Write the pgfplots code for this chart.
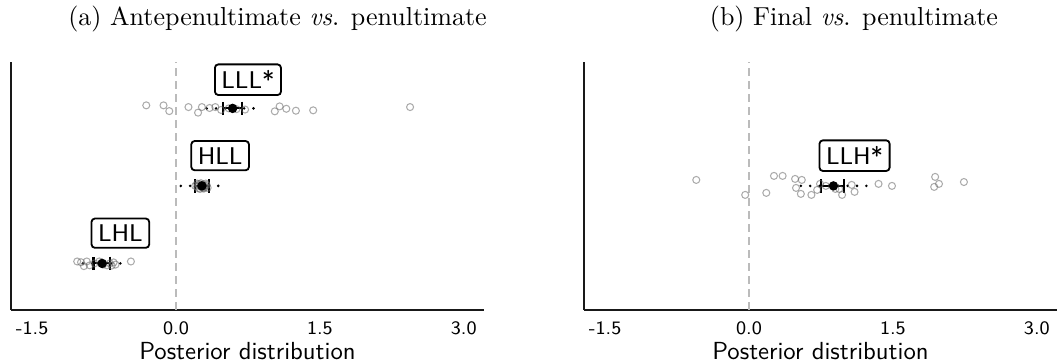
\documentclass[border=0pt]{standalone}
\usepackage{fontspec}
\usepackage{pgfplots}
\pgfplotsset{compat=1.18}
\definecolor{zeroline}{HTML}{BBBBBB}

\pgfplotsset{
 myaxis/.style={
  scale only axis, width=181.9pt, height=95.4pt,
  xmin=-1.72, xmax=3.21, ymin=0.4, ymax=3.6,
  axis x line*=bottom, axis y line*=left,
  axis line style={line width=0.85pt, black!90},
  xtick={-1.5,0,1.5,3}, xticklabels={-1.5,0.0,1.5,3.0},
  ytick=\empty,
  major tick length=0pt,
  tick label style={font=\sffamily\fontsize{7.3}{8}\selectfont},
  xticklabel style={yshift=-1.0pt},
  xlabel={Posterior distribution},
  xlabel style={font=\sffamily\fontsize{9.5}{11}\selectfont, at={(axis description cs:0.5,0)}, anchor=center, yshift=-15.8pt},
  clip=false,
 },
 indiv/.style={only marks, mark=o, mark size=1.35pt, mark options={draw=black!60, line width=0.4pt, draw opacity=0.55}},
 ci/.style={only marks, mark=*, mark size=1.6pt, black,
   error bars/.cd, x dir=both, x explicit, error mark=|,
   error bar style={line width=0.8pt, black},
   error mark options={line width=0.8pt, mark size=2.6pt, black}},
 wide/.style={black, line width=1.1pt, line cap=round, dash pattern=on 0pt off 3.6pt},
 zero/.style={zeroline, line width=0.8pt, dash pattern=on 3.2pt off 1.8pt},
}
\tikzset{lab/.style={draw, rounded corners=1.3pt, line width=0.7pt, fill=white,
  font=\sffamily\fontsize{9.3}{10}\selectfont, inner xsep=2.5pt, inner ysep=2.4pt, text depth=0pt}}

\begin{document}
\begin{tikzpicture}
\path[use as bounding box] (-4.23pt,-20pt) rectangle (402.7pt,119.2pt);

\begin{axis}[myaxis, at={(0pt,0pt)}, anchor=south west]
\addplot[zero] coordinates {(0,0.4) (0,3.6)};
% LLL
\addplot[indiv] coordinates {
(-0.31,3.039) (-0.13,3.039) (-0.07,2.965) (0.13,3.017) (0.23,2.945) (0.27,3.017)
(0.35,3.005) (0.41,3.017) (0.47,2.98) (0.55,3.0) (0.63,2.99) (0.72,2.985)
(1.03,2.962) (1.08,3.026) (1.15,2.995) (1.25,2.97) (1.43,2.975) (2.44,3.017)};
% HLL
\addplot[indiv] coordinates {
(0.20,2.0) (0.22,2.03) (0.23,1.97) (0.24,2.01) (0.25,1.96) (0.26,2.035) (0.27,1.99)
(0.28,2.02) (0.29,1.965) (0.30,2.005) (0.31,2.03) (0.33,1.975) (0.26,2.0) (0.28,1.97)
(0.24,2.025) (0.30,1.98) (0.22,1.99) (0.32,2.01) (0.27,2.01) (0.29,1.99)};
% LHL
\addplot[indiv] coordinates {
(-1.03,1.025) (-0.99,1.015) (-0.96,0.965) (-0.93,1.025) (-0.90,0.975) (-0.85,1.0)
(-0.80,1.025) (-0.76,0.985) (-0.72,0.975) (-0.69,1.0) (-0.67,0.972) (-0.65,1.013)
(-0.63,0.985) (-0.47,1.025)};
\addplot[wide] coordinates {(0.32,3) (0.90,3)};
\addplot[wide] coordinates {(0.05,2) (0.49,2)};
\addplot[wide] coordinates {(-0.97,1) (-0.51,1)};
\addplot[ci] coordinates {(0.59,3) += (0.10,0) -= (0.10,0)};
\addplot[ci] coordinates {(0.27,2) += (0.07,0) -= (0.07,0)};
\addplot[ci] coordinates {(-0.77,1) += (0.08,0) -= (0.09,0)};
\node[lab] at (axis cs:0.75,3.37) {LLL*};
\node[lab] at (axis cs:0.46,2.39) {HLL};
\node[lab] at (axis cs:-0.58,1.39) {LHL};
\end{axis}

\begin{axis}[myaxis, at={(220.4pt,0pt)}, anchor=south west]
\addplot[zero] coordinates {(0,0.4) (0,3.6)};
\addplot[indiv] coordinates {
(-0.55,2.077) (-0.04,1.884) (0.18,1.91) (0.26,2.129) (0.35,2.129) (0.48,2.09)
(0.49,1.974) (0.55,2.077) (0.54,1.897) (0.65,1.884) (0.71,1.948) (0.74,2.026)
(0.80,2.0) (0.90,1.961) (0.94,1.96) (0.97,1.884) (1.07,2.013) (1.10,1.923)
(1.35,2.026) (1.49,2.0) (1.93,1.987) (1.94,2.116) (1.98,2.026) (2.24,2.05)};
\addplot[wide] coordinates {(0.54,2) (1.28,2)};
\addplot[ci] coordinates {(0.88,2) += (0.11,0) -= (0.13,0)};
\node[lab] at (axis cs:1.10,2.39) {LLH*};
\end{axis}

\node[font=\fontsize{10}{12}\selectfont] at (102.5pt,111.9pt) {(a) Antepenultimate \textit{vs}. penultimate};
\node[font=\fontsize{10}{12}\selectfont] at (324.2pt,111.9pt) {(b) Final \textit{vs}. penultimate};
\end{tikzpicture}
\end{document}
